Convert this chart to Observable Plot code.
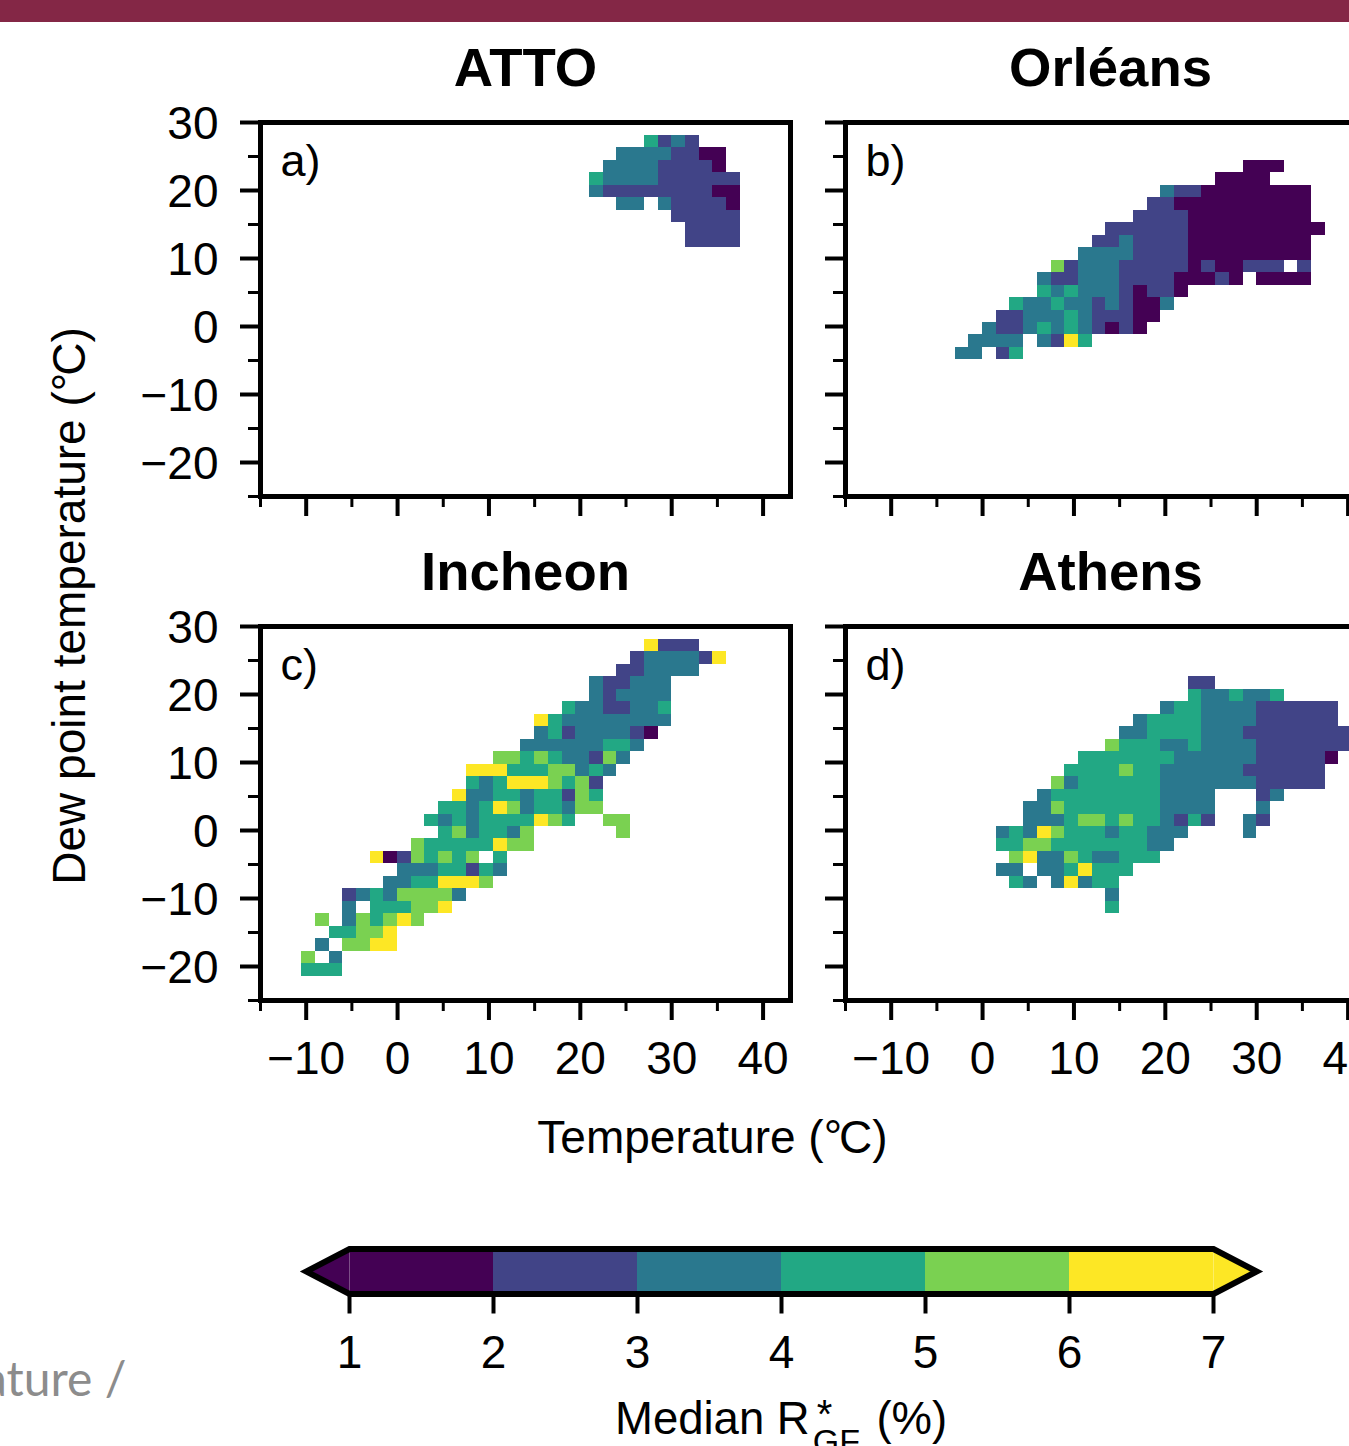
<!DOCTYPE html>
<html>
<head>
<meta charset="utf-8">
<script src="https://cdn.jsdelivr.net/npm/d3@7"></script>
<script src="https://cdn.jsdelivr.net/npm/@observablehq/plot@0.6"></script>
<style>
  html, body { margin: 0; padding: 0; background: #fff; overflow: hidden; }
  #page { position: relative; width: 1349px; height: 1446px; overflow: hidden; background: #fff;
          font-family: "Liberation Sans", Arial, sans-serif; color: #000; }
  #band { position: absolute; left: 0; top: 0; width: 1349px; height: 22px; background: #842746; }
  #page svg { position: absolute; }
  .lbl { position: absolute; white-space: nowrap; font-size: 46px; line-height: 1; }
  .deg { letter-spacing: -3px; }
</style>
</head>
<body>
<div id="page">
  <div id="band"></div>
  <div class="lbl" id="ylab" style="left:69px;top:605.5px;transform:translate(-50%,-50%) rotate(-90deg);">Dew point temperature (<span class="deg">°</span>C)</div>
  <div class="lbl" id="xlab" style="left:712.5px;top:1137px;transform:translate(-50%,-50%);">Temperature (<span class="deg">°</span>C)</div>
  <div class="lbl" id="cblab" style="left:615px;top:1396px;font-size:45.5px;">Median R<span style="display:inline-block;position:relative;width:54px;height:30px;"><span style="position:absolute;left:7px;top:-10px;font-size:40px;">*</span><span style="position:absolute;left:3px;top:20px;font-size:34px;">GF</span></span>&nbsp;(%)</div>
  <div class="lbl" id="bg" style="left:-17px;top:1354px;font-family:Lato,sans-serif;font-size:48px;color:#8c8c8c;">ature /</div>
</div>
<script>
// Each row: [grid row from the top, first grid column, one digit per cell].
// A digit d means the median lies in [d, d+1) %; "." is an empty cell.
const attoCells = [
  [1,28,"4232"],
  [2,26,"33332211"],
  [3,25,"333322221"],
  [4,24,"43333222222"],
  [5,24,"32222222211"],
  [6,26,"33.322221"],
  [7,30,"22222"],
  [8,31,"2222"],
  [9,31,"2222"]
];
const orleansCells = [
  [3,29,"111"],
  [4,27,"1111"],
  [5,23,"32211111111"],
  [6,22,"221111111111"],
  [7,21,"2222111111111"],
  [8,19,"2222221111111111"],
  [9,18,"2232222111111111"],
  [10,17,"33332222111111111"],
  [11,15,"52333222221211222.2"],
  [12,14,"322333222211121.1111"],
  [13,14,"43433321221"],
  [14,12,"433433232113"],
  [15,11,"223334322211"],
  [16,10,"322343432121"],
  [17,9,"3333.3264"],
  [18,8,"33.24"]
];
const incheonCells = [
  [1,28,"6222"],
  [2,27,"2333326"],
  [3,26,"223333"],
  [4,24,"322333"],
  [5,24,"323333"],
  [6,22,"43322334"],
  [7,20,"6433333333"],
  [8,20,"342333321"],
  [9,19,"333333443"],
  [10,17,"5545433253"],
  [11,15,"66644455343"],
  [12,15,"4346665452"],
  [13,14,"63344344254"],
  [14,13,"443465344355"],
  [15,12,"43434444654..55"],
  [16,13,"4534435......5"],
  [17,11,"544444655"],
  [18,8,"61254545.4"],
  [19,10,"33344243"],
  [20,9,"33446665"],
  [21,6,"234355553"],
  [22,6,"3.444556"],
  [23,4,"5.354565"],
  [24,5,"44556"],
  [25,4,"3.5566"],
  [26,3,"5.3"],
  [27,3,"444"]
];
const athensCells = [
  [4,25,"22"],
  [5,25,"4334334"],
  [6,23,"3443333222222"],
  [7,21,"344443333222222"],
  [8,20,"33444433322222222"],
  [9,19,"544433433332222222"],
  [10,17,"4444444333333222221"],
  [11,16,"4444544333333222222"],
  [12,15,"53444444333333322222"],
  [13,14,"3444444443333...23"],
  [14,13,"33544444443333...3"],
  [15,13,"33345545443242..32"],
  [16,11,"34365444344333....3"],
  [17,11,"4455444444433"],
  [18,12,"56335433444"],
  [19,11,"33.3346444"],
  [20,12,"43.36344"],
  [21,19,"3"],
  [22,19,"4"]
];

const titles = ["ATTO", "Orléans", "Incheon", "Athens"];
const letters = ["a)", "b)", "c)", "d)"];
const xMajor = [-10, 0, 10, 20, 30, 40];
const xMinor = [-15, -5, 5, 15, 25, 35];
const yMajor = [30, 20, 10, 0, -10, -20];
const yMinor = [25, 15, 5, -5, -15, -25];
const xDomain = [-15, 43];
const yDomain = [-25, 30];
const xStep = 1.5;
const yStep = 55 / 30;

const binEdges = [2, 3, 4, 5, 6];
const binColors = ["#440154", "#414487", "#2a788e", "#22a884", "#7ad151", "#fde725"];
const cbTicks = [1, 2, 3, 4, 5, 6, 7];
const cbExtend = 0.3;

const colorScale = {type: "threshold", domain: binEdges, range: binColors};
const FONT = "Liberation Sans, Arial, sans-serif";
const page = document.getElementById("page");
const minus = d => (d < 0 ? "\u2212" + (-d) : String(d));

function expand(rows) {
  const out = [];
  for (const [row, col, digits] of rows) {
    [...digits].forEach((c, i) => {
      if (c === ".") return;
      const m = col + i;
      out.push({
        x1: xDomain[0] + m * xStep,
        x2: xDomain[0] + (m + 1) * xStep,
        y1: yDomain[1] - (row + 1) * yStep,
        y2: yDomain[1] - row * yStep,
        v: +c + 0.5
      });
    });
  }
  return out;
}

const ML = 160, MR = 15, MT = 80, MB = 100, FW = 530, FH = 374;
const origins = [[259.5, 122], [844.5, 122], [259.5, 626], [844.5, 626]];
[attoCells, orleansCells, incheonCells, athensCells].forEach((rows, i) => {
  const left = i % 2 === 0, bottom = i >= 2;
  const svg = Plot.plot({
    width: ML + FW + MR, height: MT + FH + MB,
    marginLeft: ML, marginRight: MR, marginTop: MT, marginBottom: MB,
    x: {domain: xDomain, axis: null},
    y: {domain: yDomain, axis: null},
    color: colorScale,
    style: {background: "transparent", fontFamily: FONT, color: "#000", overflow: "visible"},
    marks: [
      Plot.rect(expand(rows), {x1: "x1", x2: "x2", y1: "y1", y2: "y2", fill: "v", dy: 0.5, shapeRendering: "crispEdges"}),
      Plot.axisX({ticks: xMajor, tickSize: 20, strokeWidth: 4, anchor: "bottom", tickPadding: 21, fontSize: 46,
                  tickFormat: minus, ...(bottom ? {} : {text: null}), label: null}),
      Plot.axisX({ticks: xMinor, tickSize: 11, strokeWidth: 3, anchor: "bottom", text: null, label: null}),
      Plot.axisY({ticks: yMajor, tickSize: 20, strokeWidth: 4, anchor: "left", text: null, label: null}),
      ...(left ? [Plot.axisY({ticks: yMajor, tickSize: 0, anchor: "left", tickPadding: 42, dy: 1.5, fontSize: 46,
                              tickFormat: minus, label: null})] : []),
      Plot.axisY({ticks: yMinor, tickSize: 12, strokeWidth: 3, anchor: "left", text: null, label: null}),
      Plot.frame({stroke: "#000", strokeWidth: 5}),
      Plot.text([letters[i]], {frameAnchor: "top-left", dx: 20, dy: 39, fontSize: 45, textAnchor: "start", lineAnchor: "middle"}),
      Plot.text([titles[i]], {frameAnchor: "top", dy: -54, fontSize: 54.5, fontWeight: "bold", lineAnchor: "middle"})
    ]
  });
  svg.style.left = (origins[i][0] - ML) + "px";
  svg.style.top = (origins[i][1] - MT) + "px";
  page.appendChild(svg);
});

// Colour bar
const bins = d3.pairs(cbTicks).map(([a, b]) => ({a, b, v: (a + b) / 2}));
const lo = cbTicks[0], hi = cbTicks[cbTicks.length - 1];
const tipLeft = [{x: lo - cbExtend, y1: 0.5, y2: 0.5}, {x: lo, y1: 0, y2: 1}];
const tipRight = [{x: hi, y1: 0, y2: 1}, {x: hi + cbExtend, y1: 0.5, y2: 0.5}];
const outline = [
  {x: 4, y: 0}, {x: hi, y: 0}, {x: hi + cbExtend, y: 0.5}, {x: hi, y: 1},
  {x: lo, y: 1}, {x: lo - cbExtend, y: 0.5}, {x: lo, y: 0}, {x: 4, y: 0}
];
const cb = Plot.plot({
  width: 1349, height: 160,
  marginLeft: 349, marginRight: 136, marginTop: 8.5, marginBottom: 106.5,
  x: {domain: [lo, hi], axis: null},
  y: {domain: [0, 1], axis: null},
  color: colorScale,
  style: {background: "transparent", fontFamily: FONT, color: "#000", overflow: "visible"},
  marks: [
    Plot.rect(bins, {x1: "a", x2: "b", y1: 0, y2: 1, fill: "v", shapeRendering: "crispEdges"}),
    Plot.areaY(tipLeft, {x: "x", y1: "y1", y2: "y2", fill: binColors[0]}),
    Plot.areaY(tipRight, {x: "x", y1: "y1", y2: "y2", fill: binColors[5]}),
    Plot.ruleX([lo, hi], {y1: 0, y2: 1, stroke: "#fff", strokeOpacity: 0.3, strokeWidth: 1}),
    Plot.line(outline, {x: "x", y: "y", stroke: "#000", strokeWidth: 6, strokeLinejoin: "miter", strokeMiterlimit: 10}),
    Plot.axisX({ticks: cbTicks, tickSize: 20, strokeWidth: 4, anchor: "bottom", tickPadding: 21, fontSize: 46, tickFormat: d => String(d), label: null})
  ]
});
cb.style.left = "-0.5px";
cb.style.top = "1240px";
page.appendChild(cb);
</script>
</body>
</html>
